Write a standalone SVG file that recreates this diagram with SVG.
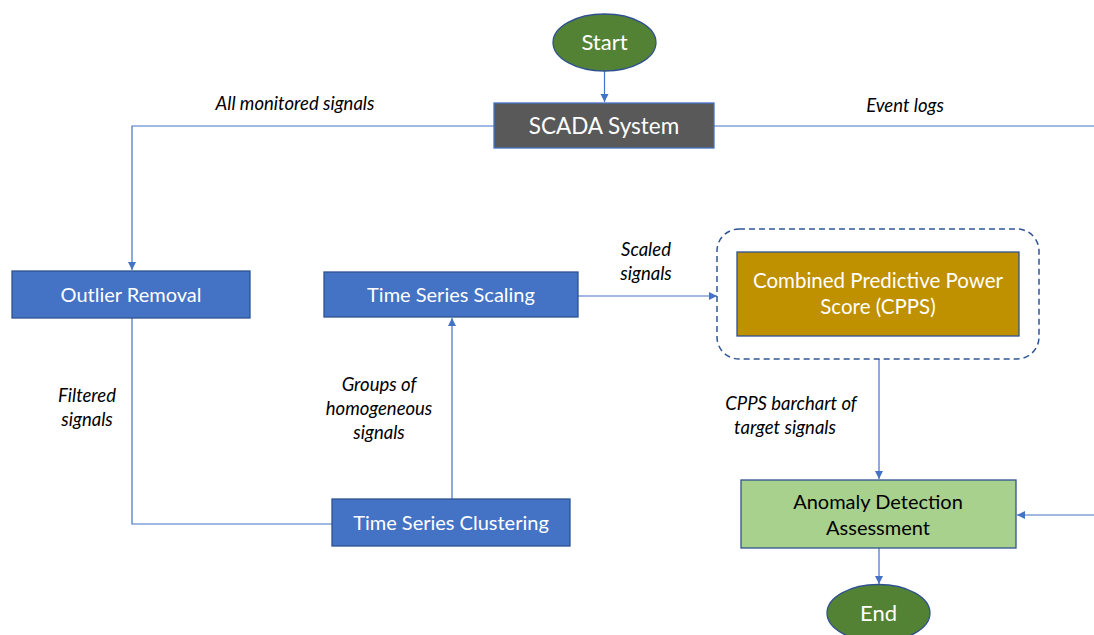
<svg xmlns="http://www.w3.org/2000/svg" width="1094" height="635" viewBox="0 0 1094 635">
<defs>
<marker id="arr" markerWidth="10" markerHeight="10" refX="9" refY="5" orient="auto" markerUnits="userSpaceOnUse">
<path d="M1,1 L9,5 L1,9 Z" fill="#4472c4"/>
</marker>
<style>
.box{stroke:#2f528f;stroke-width:1.3}
.blue{fill:#4472c4}
.t{font-family:Lato,"Open Sans","Liberation Sans",sans-serif;font-size:20px;fill:#fff;text-anchor:middle}
.lbl{font-family:Lato,"Open Sans","Liberation Sans",sans-serif;font-size:18.5px;font-style:italic;fill:#000;text-anchor:middle}
.c{fill:none;stroke:#4472c4;stroke-width:1.2}
</style>
</defs>
<rect width="1094" height="635" fill="#fff"/>
<g id="connectors">
<path class="c" d="M604.5,71 V102" marker-end="url(#arr)"/>
<path class="c" d="M494,126 H132 V270" marker-end="url(#arr)"/>
<path class="c" d="M714,126 H1094"/>
<path class="c" d="M132,318 V524 H332"/>
<path class="c" d="M452,499 V318" marker-end="url(#arr)"/>
<path class="c" d="M578,296 H717" marker-end="url(#arr)"/>
<path class="c" d="M879,359 V479" marker-end="url(#arr)"/>
<path class="c" d="M1094,515 H1017" marker-end="url(#arr)"/>
<path class="c" d="M879,548 V584" marker-end="url(#arr)"/>
</g>
<g id="labels">
<text class="lbl" x="295" y="110">All monitored signals</text>
<text class="lbl" x="905" y="112">Event logs</text>
<text class="lbl" x="646" y="256">Scaled</text>
<text class="lbl" x="646" y="280">signals</text>
<text class="lbl" x="87" y="402">Filtered</text>
<text class="lbl" x="87" y="426">signals</text>
<text class="lbl" x="379" y="391">Groups of</text>
<text class="lbl" x="379" y="415">homogeneous</text>
<text class="lbl" x="379" y="439">signals</text>
<text class="lbl" x="791" y="410">CPPS barchart of</text>
<text class="lbl" x="785" y="434">target signals</text>
</g>
<g id="start">
<ellipse cx="604.5" cy="42.5" rx="51.5" ry="28.5" fill="#548235" class="box"/>
<text class="t" x="604.5" y="50" style="font-size:22px">Start</text>
</g>
<g id="scada">
<rect x="494" y="103" width="220" height="45" fill="#595959" stroke="#4472c4" stroke-width="1.3"/>
<text class="t" x="604" y="134" style="font-size:22.5px">SCADA System</text>
</g>
<g id="outlier">
<rect x="12" y="271" width="238" height="47" class="box blue"/>
<text class="t" x="131" y="302">Outlier Removal</text>
</g>
<g id="scaling">
<rect x="324" y="272" width="254" height="45" class="box blue"/>
<text class="t" x="451" y="302">Time Series Scaling</text>
</g>
<g id="clustering">
<rect x="332" y="499" width="238" height="47" class="box blue"/>
<text class="t" x="451" y="530">Time Series Clustering</text>
</g>
<g id="cpps">
<rect x="717" y="229" width="322" height="130" rx="22" fill="none" stroke="#2f5597" stroke-width="1.5" stroke-dasharray="6,4"/>
<rect x="737" y="252" width="282" height="84" fill="#bf9000" class="box"/>
<text class="t" x="878" y="288" style="font-size:20.5px">Combined Predictive Power</text>
<text class="t" x="878" y="314" style="font-size:20.5px">Score (CPPS)</text>
</g>
<g id="anomaly">
<rect x="741" y="480" width="275" height="68" fill="#a9d18e" class="box"/>
<text class="t" x="878" y="509" style="fill:#000">Anomaly Detection</text>
<text class="t" x="878" y="535" style="fill:#000">Assessment</text>
</g>
<g id="end">
<ellipse cx="878.5" cy="613" rx="51.5" ry="28.5" fill="#548235" class="box"/>
<text class="t" x="878.5" y="621" style="font-size:22px">End</text>
</g>
</svg>
